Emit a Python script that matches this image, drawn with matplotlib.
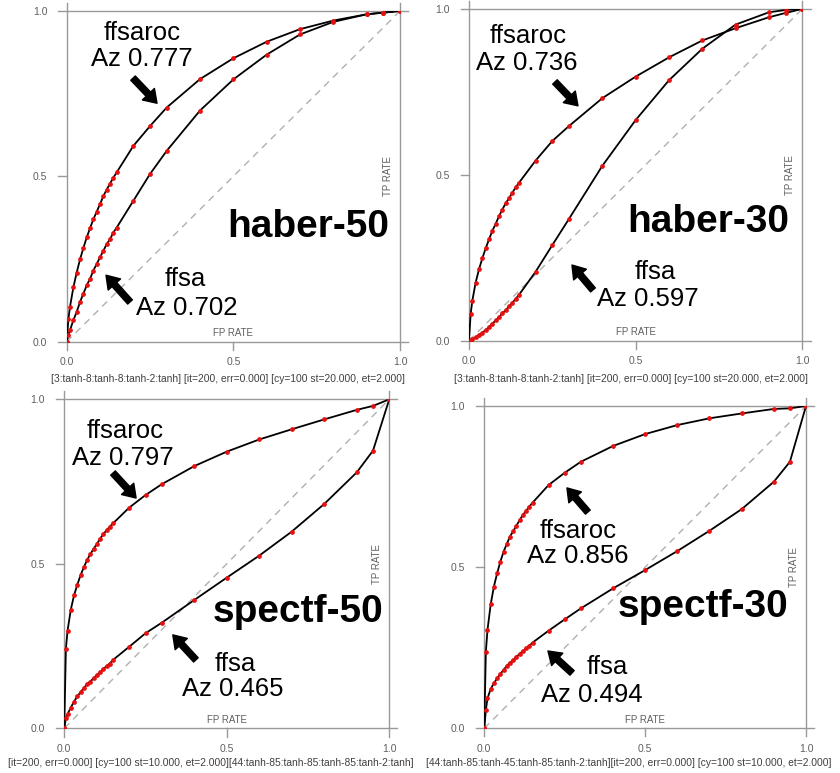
import matplotlib.pyplot as plt

plt.rcParams['font.family'] = ['Liberation Sans', 'DejaVu Sans']

# FP rate at which every curve was sampled (the red dots)
fp_rate = [0.0, 0.005, 0.01, 0.02, 0.03, 0.04, 0.05, 0.06, 0.07, 0.08, 0.09,
           0.10, 0.11, 0.12, 0.13, 0.14, 0.15, 0.2, 0.25, 0.3, 0.4, 0.5,
           0.6, 0.7, 0.8, 0.9, 0.95, 1.0]

# TP rates
haber50_ffsaroc = [0.0, 0.068, 0.106, 0.164, 0.209, 0.249, 0.283, 0.315,
                   0.343, 0.370, 0.393, 0.416, 0.440, 0.460, 0.478, 0.496,
                   0.512, 0.592, 0.652, 0.708, 0.794, 0.857, 0.907, 0.945,
                   0.971, 0.990, 0.995, 1.0]
haber50_ffsa = [0.0, 0.02, 0.035, 0.065, 0.09, 0.12, 0.145, 0.17, 0.19,
                0.215, 0.235, 0.255, 0.275, 0.295, 0.31, 0.33, 0.345, 0.426,
                0.507, 0.577, 0.699, 0.793, 0.868, 0.929, 0.967, 0.99,
                0.995, 1.0]

haber30_ffsaroc = [0.0, 0.08, 0.12, 0.175, 0.215, 0.248, 0.278, 0.305,
                   0.331, 0.352, 0.375, 0.395, 0.414, 0.429, 0.446, 0.462,
                   0.476, 0.543, 0.602, 0.647, 0.731, 0.796, 0.854, 0.905,
                   0.942, 0.975, 0.988, 1.0]
haber30_ffsa = [0.0, 0.002, 0.004, 0.01, 0.017, 0.024, 0.032, 0.041, 0.051,
                0.061, 0.071, 0.082, 0.092, 0.103, 0.114, 0.126, 0.138,
                0.208, 0.288, 0.367, 0.527, 0.665, 0.785, 0.880, 0.953,
                0.99, 0.997, 1.0]

spectf50_ffsaroc = [0.0, 0.241, 0.296, 0.360, 0.404, 0.436, 0.465, 0.489,
                    0.511, 0.529, 0.545, 0.560, 0.576, 0.590, 0.602, 0.613,
                    0.623, 0.671, 0.709, 0.742, 0.797, 0.841, 0.878, 0.909,
                    0.939, 0.968, 0.980, 1.0]
spectf50_ffsa = [0.0, 0.030, 0.043, 0.063, 0.081, 0.097, 0.110, 0.122,
                 0.134, 0.142, 0.152, 0.162, 0.170, 0.180, 0.189, 0.197,
                 0.208, 0.248, 0.289, 0.321, 0.390, 0.458, 0.525, 0.598,
                 0.682, 0.778, 0.844, 1.0]

spectf30_ffsaroc = [0.0, 0.238, 0.305, 0.385, 0.440, 0.481, 0.517, 0.548,
                    0.572, 0.595, 0.612, 0.629, 0.646, 0.662, 0.675, 0.688,
                    0.700, 0.755, 0.793, 0.827, 0.876, 0.913, 0.941, 0.962,
                    0.977, 0.991, 0.993, 1.0]
spectf30_ffsa = [0.0, 0.057, 0.093, 0.122, 0.140, 0.155, 0.169, 0.181,
                 0.194, 0.204, 0.212, 0.222, 0.231, 0.240, 0.248, 0.256,
                 0.266, 0.303, 0.338, 0.372, 0.434, 0.491, 0.550, 0.613,
                 0.680, 0.765, 0.827, 1.0]

names = ["haber-50", "haber-30", "spectf-50", "spectf-30"]
az_ffsaroc = ["0.777", "0.736", "0.797", "0.856"]
az_ffsa = ["0.702", "0.597", "0.465", "0.494"]
captions = [
    "[3:tanh-8:tanh-8:tanh-2:tanh] [it=200, err=0.000] [cy=100 st=20.000, et=2.000]",
    "[3:tanh-8:tanh-8:tanh-2:tanh] [it=200, err=0.000] [cy=100 st=20.000, et=2.000]",
    "[it=200, err=0.000] [cy=100 st=10.000, et=2.000][44:tanh-85:tanh-85:tanh-85:tanh-2:tanh]",
    "[44:tanh-85:tanh-45:tanh-85:tanh-2:tanh][it=200, err=0.000] [cy=100 st=10.000, et=2.000]",
]
curves = [(haber50_ffsaroc, haber50_ffsa), (haber30_ffsaroc, haber30_ffsa),
          (spectf50_ffsaroc, spectf50_ffsa), (spectf30_ffsaroc, spectf30_ffsa)]

# layout: axes rectangles and annotation placement (axes fractions)
rects = [(0.0794, 0.558, 0.3968, 0.4278), (0.5583, 0.5593, 0.3968, 0.4291),
         (0.0765, 0.0578, 0.3869, 0.4256), (0.5765, 0.0578, 0.383, 0.4169)]
caption_pos = [(0.271, 0.5035), (0.751, 0.5035), (0.251, 0.0065), (0.748, 0.0065)]
layout = [
    dict(roc=(0.226, 0.932), roc_az=(0.226, 0.855), roc_arrow=((0.199, 0.797), (0.271, 0.721)),
         name=(0.724, 0.346), sa=(0.355, 0.190), sa_az=(0.361, 0.103),
         sa_arrow=((0.19, 0.12), (0.118, 0.201))),
    dict(roc=(0.177, 0.917), roc_az=(0.174, 0.838), roc_arrow=((0.258, 0.780), (0.327, 0.708)),
         name=(0.717, 0.358), sa=(0.558, 0.207), sa_az=(0.537, 0.127),
         sa_arrow=((0.372, 0.153), (0.309, 0.228))),
    dict(roc=(0.187, 0.905), roc_az=(0.181, 0.823), roc_arrow=((0.150, 0.776), (0.221, 0.700)),
         name=(0.719, 0.353), sa=(0.525, 0.195), sa_az=(0.519, 0.120),
         sa_arrow=((0.405, 0.208), (0.334, 0.284))),
    dict(roc=(0.291, 0.613), roc_az=(0.291, 0.536), roc_arrow=((0.322, 0.671), (0.257, 0.746)),
         name=(0.679, 0.376), sa=(0.381, 0.190), sa_az=(0.334, 0.104),
         sa_arrow=((0.273, 0.172), (0.198, 0.240))),
]

frame = "#999999"
tick_col = "#606060"
ext = 0.025

fig = plt.figure(figsize=(8.4, 7.73), dpi=100)

for i in range(4):
    ax = fig.add_axes(rects[i])
    lay = layout[i]
    roc, sa = curves[i]

    ax.plot([0, 1], [0, 1], color="#b0b0b0", lw=1, ls=(0, (5, 4)), zorder=1)
    for tp in (roc, sa):
        ax.plot(fp_rate, tp, color="black", lw=1.3, zorder=3)
        ax.plot(fp_rate, tp, ls="none", marker="o", ms=2.4,
                mfc="#e51010", mec="#e51010", zorder=4)

    # frame lines that run a little past the corners
    for v in (0, 1):
        ax.plot([-ext, 1 + ext], [v, v], color=frame, lw=1, clip_on=False, zorder=2)
        ax.plot([v, v], [-ext, 1 + ext], color=frame, lw=1, clip_on=False, zorder=2)
    ax.plot([0.5, 0.5], [0, -ext], color=frame, lw=1, clip_on=False)
    ax.plot([0, -ext], [0.5, 0.5], color=frame, lw=1, clip_on=False)

    ax.set_xlim(0, 1)
    ax.set_ylim(0, 1)
    for s in ax.spines.values():
        s.set_visible(False)
    ax.set_xticks([0, 0.5, 1.0])
    ax.set_yticks([0, 0.5, 1.0])
    ax.set_xticklabels(["0.0", "0.5", "1.0"])
    ax.set_yticklabels(["0.0", "0.5", "1.0"])
    ax.tick_params(length=0, labelsize=7.5, labelcolor=tick_col)
    ax.tick_params(axis="x", pad=11)
    ax.tick_params(axis="y", pad=14)

    ax.text(0.5, 0.026, "FP RATE", fontsize=7, color=tick_col,
            ha="center", va="center")
    ax.text(0.963, 0.5, "TP RATE", fontsize=7, color=tick_col,
            ha="center", va="center", rotation=90)

    ax.text(*lay["roc"], "ffsaroc", fontsize=18.5, ha="center", va="center")
    ax.text(*lay["roc_az"], "Az " + az_ffsaroc[i], fontsize=18.5,
            ha="center", va="center")
    ax.text(*lay["sa"], "ffsa", fontsize=18.5, ha="center", va="center")
    ax.text(*lay["sa_az"], "Az " + az_ffsa[i], fontsize=18.5,
            ha="center", va="center")
    ax.text(*lay["name"], names[i], fontsize=28, fontweight="bold",
            ha="center", va="center")

    for key in ("roc_arrow", "sa_arrow"):
        tail, head = lay[key]
        ax.annotate("", xy=head, xytext=tail,
                    arrowprops=dict(width=4.5, headwidth=12, headlength=9,
                                    color="black", shrink=0))

    fig.text(*caption_pos[i], captions[i], fontsize=7.4, color="#404040",
             ha="center", va="bottom")

fig.savefig("out.png", dpi=100)
